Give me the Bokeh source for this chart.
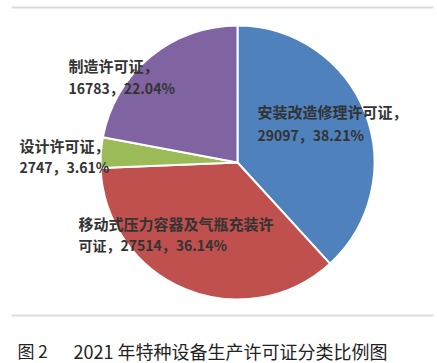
import math
from bokeh.plotting import figure
from bokeh.models import Range1d, ColumnDataSource
from bokeh.core.properties import value
from bokeh.embed import file_html
from bokeh.resources import INLINE

# ---- data ----
categories = ["安装改造修理许可证", "移动式压力容器及气瓶充装许可证", "设计许可证", "制造许可证"]
counts = [29097, 27514, 2747, 16783]
percents = ["38.21%", "36.14%", "3.61%", "22.04%"]
colors = ["#4F81BD", "#C0504D", "#9BBB59", "#8064A2"]
caption_num = "图 2"
caption_text = "2021 年特种设备生产许可证分类比例图"

W, H = 437, 363
PAGE_H = 363


def py(y):
    # page y -> data y
    return PAGE_H - y


p = figure(width=W, height=H, output_backend="svg", toolbar_location=None,
           x_range=Range1d(0, W), y_range=Range1d(0, H),
           min_border=0, outline_line_color=None)
p.axis.visible = False
p.grid.visible = False
p.background_fill_color = "white"
p.border_fill_color = "white"

# pie wedges, clockwise from 12 o'clock
total = sum(counts)
starts, ends = [], []
cum = 0
for c in counts:
    starts.append(math.pi / 2 - 2 * math.pi * cum / total)
    cum += c
    ends.append(math.pi / 2 - 2 * math.pi * cum / total)

src = ColumnDataSource(dict(start=starts, end=ends, color=colors))
cx, cy, r = 237, py(162), 137
p.wedge(x=cx, y=cy, radius=r, start_angle="start", end_angle="end",
        direction="clock", fill_color="color", line_color="white",
        line_width=2, source=src)

# separator lines
p.line([11, 433], [py(7), py(7)], line_color="#DDDDDD", line_width=2)
p.line([11, 433], [py(315), py(315)], line_color="#DDDDDD", line_width=2)

font = value("Noto Sans CJK SC")
txt_color = "#333333"

# labels: (x, y_line1, y_line2, line1, line2)
labels = [
    (257, 111, 134, categories[0] + "，", f"{counts[0]}，{percents[0]}"),
    (78, 223, 244, "移动式压力容器及气瓶充装许", "可证，" + f"{counts[1]}，{percents[1]}"),
    (19, 145, 166, categories[2] + "，", f"{counts[2]}，{percents[2]}"),
    (68, 65, 87, categories[3] + "，", f"{counts[3]}，{percents[3]}"),
]
for x, y1, y2, l1, l2 in labels:
    p.text(x=[x], y=[py(y1)], text=[l1], text_font=font, text_font_size="15px",
           text_color=txt_color, text_baseline="middle", text_align="left",
           text_font_style="bold")
    p.text(x=[x], y=[py(y2)], text=[l2], text_font=font, text_font_size="14px",
           text_color=txt_color, text_baseline="middle", text_align="left",
           text_font_style="bold")

# caption
p.text(x=[17], y=[py(350)], text=[caption_num], text_font=font,
       text_font_size="17px", text_color="#222222", text_baseline="middle")
p.text(x=[73], y=[py(350)], text=[caption_text], text_font=font,
       text_font_size="18px", text_color="#222222", text_baseline="middle")

open("out.html", "w").write(file_html(p, INLINE))
